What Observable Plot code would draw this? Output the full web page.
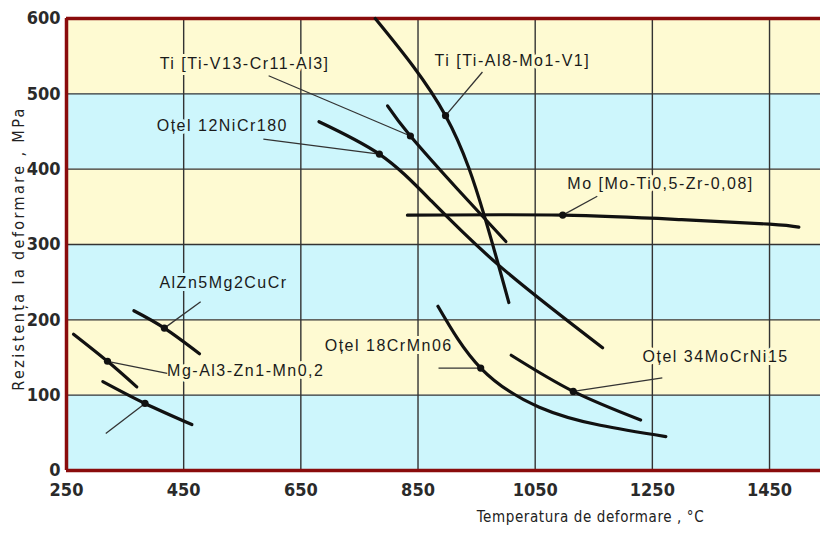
<!DOCTYPE html>
<html>
<head>
<meta charset="utf-8">
<script src="https://cdn.jsdelivr.net/npm/d3@7"></script>
<script src="https://cdn.jsdelivr.net/npm/@observablehq/plot@0.6"></script>
<style>
  html, body { margin: 0; padding: 0; background: #fff; }
  #chart svg { display: block; }
  .curve-label { letter-spacing: 1.5px; }
  .x-title { letter-spacing: 0.6px; }
  .y-title { letter-spacing: 2.4px; }
</style>
</head>
<body>
<div id="chart"></div>
<script>
// ---- tick labels ----
const xTicks = [250, 450, 650, 850, 1050, 1250, 1450];
const yTicks = [0, 100, 200, 300, 400, 500, 600];
const xDomain = [250, 1537];
const yDomain = [0, 600];
const xTitle = "Temperatura de deformare , °C";
const yTitle = "Rezistența la deformare , MPa";

// ---- curves: [temperature °C, resistance MPa] ----
const tiAl8   = [[777, 600], [897, 471], [964, 336], [1005, 223]];
const tiV13   = [[798, 484], [837, 444], [918, 373], [1000, 304]];
const niCr180 = [[681, 463], [784, 420], [870, 360], [990, 271], [1165, 163]];
const mo      = [[832, 339], [1097, 339], [1300, 333], [1450, 327], [1500, 323]];
const crMn06  = [[884, 218], [957, 136], [1057, 84], [1161, 60], [1273, 45]];
const moCrNi  = [[1009, 153], [1115, 105], [1230, 67]];
const alZn    = [[365, 212], [417, 189], [477, 155]];
const mgUpper = [[262, 181], [320, 145], [370, 111]];
const mgLower = [[312, 118], [384, 89], [464, 61]];

// ---- labels ----
const labelNames = ["Ti [Ti-V13-Cr11-Al3]", "Ti [Ti-Al8-Mo1-V1]", "Oțel 12NiCr180", "Mo [Mo-Ti0,5-Zr-0,08]",
                    "AlZn5Mg2CuCr", "Mg-Al3-Zn1-Mn0,2", "Oțel 18CrMn06", "Oțel 34MoCrNi15"];
const labelX = [554, 1011, 516, 1264, 518, 556, 800, 1358];
const labelY = [540, 544, 457, 380, 249, 132, 165, 151];

// ---- markers on the curves ----
const markerX = [837, 897, 784, 1097, 417, 320, 384, 957, 1115];
const markerY = [444, 471, 420, 339, 189, 145, 89, 136, 105];
// ---- leader line starts (end at the markers above) ----
const leaderX = [595, 960, 586, 1156, 479, 422, 317, 885, 1267];
const leaderY = [524, 529, 440, 364, 224, 129, 49, 136, 123];

// ---- build tables ----
const curves = {tiAl8, tiV13, niCr180, mo, crMn06, moCrNi, alZn, mgUpper, mgLower};
const curveRows = Object.entries(curves).flatMap(([k, pts]) => pts.map(([x, y]) => ({series: k, x, y})));
const labels = labelNames.map((t, i) => ({text: t, x: labelX[i], y: labelY[i]}));
const markers = markerX.map((x, i) => ({x, y: markerY[i]}));
const leaders = leaderX.map((x, i) => ({x1: x, y1: leaderY[i], x2: markerX[i], y2: markerY[i]}));
const bands = d3.range(0, 600, 100).map(v => ({y1: v, y2: v + 100}));

const YELLOW = "#fefad2", BLUE = "#cdf6fc";
const bandColor = y => (Math.floor(y / 100) % 2 === 0 ? BLUE : YELLOW);

const tickFont = "'DejaVu Sans Condensed', 'Liberation Sans Narrow', 'Arial Narrow', sans-serif";
const labelFont = "'Liberation Sans', Arial, sans-serif";

const chart = Plot.plot({
  width: 820,
  height: 534,
  marginLeft: 66,
  marginRight: 0,
  marginTop: 18,
  marginBottom: 64,
  x: {domain: xDomain},
  y: {domain: yDomain},
  marks: [
    Plot.rect(bands, {y1: "y1", y2: "y2", x1: xDomain[0], x2: xDomain[1], fill: d => bandColor(d.y1)}),
    Plot.ruleY(yTicks.slice(1, -1), {stroke: "#333", strokeWidth: 1.4}),
    Plot.ruleX(xTicks.slice(1), {stroke: "#333", strokeWidth: 1.4}),
    Plot.ruleY([yDomain[0], yDomain[1]], {stroke: "#8a0c0c", strokeWidth: 3.5}),
    Plot.ruleX([xDomain[0]], {stroke: "#8a0c0c", strokeWidth: 3.5}),
    Plot.text(labels, {x: "x", y: "y", text: "text", fontSize: 16, fontFamily: labelFont,
      fill: "#1a1a1a", stroke: d => bandColor(d.y), strokeWidth: 6, paintOrder: "stroke",
      className: "curve-label"}),
    Plot.link(leaders, {x1: "x1", y1: "y1", x2: "x2", y2: "y2", stroke: "#333", strokeWidth: 1.3}),
    Plot.line(curveRows, {x: "x", y: "y", z: "series", curve: "natural", stroke: "#111", strokeWidth: 3.2, strokeLinecap: "round"}),
    Plot.dot(markers, {x: "x", y: "y", r: 3.6, fill: "#111"}),
    Plot.axisX(xTicks, {tickSize: 0, tickPadding: 13, tickFormat: d => String(d), fontSize: 18, fontWeight: 600, fontFamily: tickFont, fill: "#2a2a2a", label: null}),
    Plot.axisY(yTicks, {tickSize: 0, tickPadding: 6, tickFormat: d => String(d), fontSize: 18, fontWeight: 600, fontFamily: tickFont, fill: "#2a2a2a", label: null}),
    Plot.text([xTitle], {frameAnchor: "bottom", textAnchor: "middle", dx: 147, dy: 51, fontSize: 15, fontFamily: tickFont, fill: "#222", className: "x-title"}),
    Plot.text([yTitle], {frameAnchor: "left", textAnchor: "middle", rotate: -90, dx: -48, dy: 4, fontSize: 16, fontFamily: tickFont, fill: "#222", className: "y-title"})
  ]
});
document.getElementById("chart").appendChild(chart);
</script>
</body>
</html>
